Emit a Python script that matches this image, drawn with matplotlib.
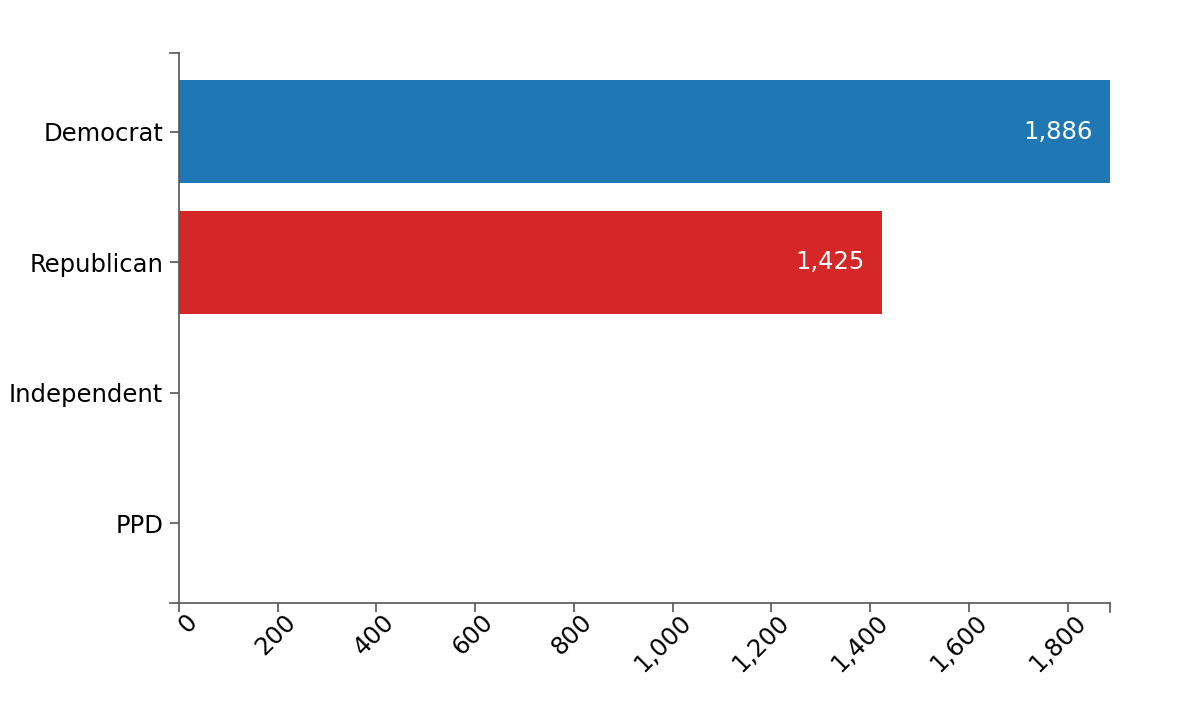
import matplotlib
matplotlib.use("Agg")
import matplotlib.pyplot as plt
import matplotlib.transforms as mtransforms
from matplotlib.ticker import FuncFormatter, FixedLocator

categories = ["Democrat", "Republican", "Independent", "PPD"]
values = [1886, 1425, 0, 0]
colors = ["#1f77b4", "#d62728", "#1f77b4", "#1f77b4"]
xticks = [0, 200, 400, 600, 800, 1000, 1200, 1400, 1600, 1800]

W, H = 1200, 711
fig = plt.figure(figsize=(W / 100, H / 100), dpi=100)
left, right, top, bottom = 179, 1110, 53, 603
ax = fig.add_axes([left / W, 1 - bottom / H, (right - left) / W, (bottom - top) / H])

FS = 17.5
ypos = list(range(len(categories)))
ax.barh(ypos, values, height=0.79, color=colors)
ax.set_xlim(0, max(values))
ax.set_ylim(3.613, -0.605)

for y, v in zip(ypos, values):
    if v > 0:
        ax.text(v - max(values) * 0.019, y, f"{v:,}", color="white", ha="right", va="center", fontsize=FS)

gray = "#555555"
for s in ["top", "right"]:
    ax.spines[s].set_visible(False)
for s in ["left", "bottom"]:
    ax.spines[s].set_color(gray)
    ax.spines[s].set_linewidth(1.2)

ax.set_yticks(ypos)
ax.set_yticklabels(categories, fontsize=FS)
ax.xaxis.set_major_locator(FixedLocator(xticks))
ax.xaxis.set_major_formatter(FuncFormatter(lambda x, p: f"{int(x):,}"))
ax.tick_params(axis="both", colors=gray, length=6.8, width=1.2, labelcolor="black")
ax.tick_params(axis="y", pad=4.5)
ax.tick_params(axis="x", labelsize=FS, pad=1)
offset = mtransforms.ScaledTranslation(6 / 100, 4 / 100, fig.dpi_scale_trans)
for lbl in ax.get_xticklabels():
    lbl.set_rotation(45)
    lbl.set_ha("right")
    lbl.set_va("top")
    lbl.set_rotation_mode("anchor")
    lbl.set_transform(lbl.get_transform() + offset)

# outer ticks of domain paths
kw = dict(color=gray, lw=1.2, clip_on=False, transform=ax.transAxes)
dx = 9 / (right - left)
dy = 9 / (bottom - top)
ax.plot([-dx, 0], [1, 1], **kw)
ax.plot([-dx, 0], [0, 0], **kw)
ax.plot([1, 1], [0, -dy], **kw)

fig.savefig("out.png", dpi=100)
